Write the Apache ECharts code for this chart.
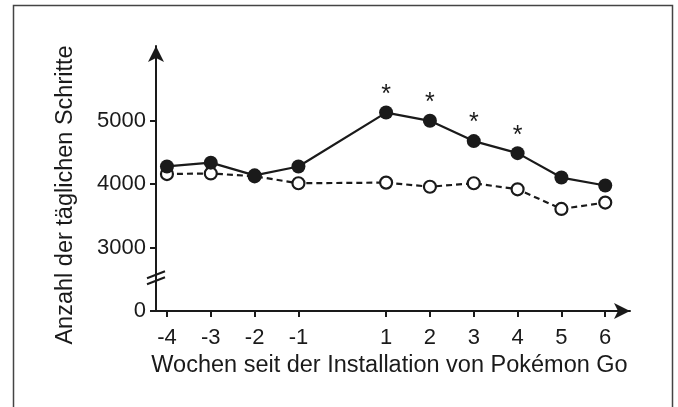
<!DOCTYPE html>
<html>
<head>
<meta charset="utf-8">
<script src="https://cdn.jsdelivr.net/npm/echarts@6/dist/echarts.min.js"></script>
<style>
html,body{margin:0;padding:0;background:#fff;}
#chart{width:678px;height:407px;}
</style>
</head>
<body>
<div id="chart"></div>
<script>
// Data
var weeks = [-4, -3, -2, -1, 1, 2, 3, 4, 5, 6];
var pokemonUsers = [4280, 4340, 4140, 4280, 5130, 5000, 4680, 4490, 4105, 3980];
var nonUsers = [4160, 4170, 4125, 4015, 4025, 3960, 4015, 3920, 3610, 3710];
var significantWeeks = [1, 2, 3, 4];
var yTicks = [0, 3000, 4000, 5000];
var xTitle = 'Wochen seit der Installation von Pokémon Go';
var yTitle = 'Anzahl der täglichen Schritte';

var ink = '#1a1a1a';
var font = 'Liberation Sans';

function pairs(vals, withStars) {
  return weeks.map(function (w, i) {
    var item = { value: [w, vals[i]] };
    if (withStars && significantWeeks.indexOf(w) >= 0) {
      item.label = { show: true };
    }
    return item;
  });
}
function plain(v) { return String(v); }

var chart = echarts.init(document.getElementById('chart'), null, { renderer: 'canvas' });
var option = {
  animation: false,
  backgroundColor: '#fff',
  textStyle: { fontFamily: font, color: ink },
  grid: { left: 156, right: 48, top: 46, bottom: 96, containLabel: false },
  xAxis: {
    type: 'value',
    min: -4.25,
    max: 6.565,
    name: xTitle,
    nameLocation: 'middle',
    nameGap: 42,
    nameTextStyle: { fontSize: 23.5, color: ink, fontFamily: font, padding: [0, 7, 0, 0] },
    axisLine: { show: true, onZero: false, lineStyle: { color: ink, width: 2 }, symbol: ['none', 'arrow'], symbolSize: [12, 16] },
    axisTick: { show: true, inside: false, length: 6, lineStyle: { color: ink, width: 2 }, customValues: weeks },
    axisLabel: { show: true, margin: 16, fontSize: 22, color: ink, fontFamily: font, customValues: weeks, formatter: plain },
    splitLine: { show: false }
  },
  yAxis: {
    type: 'value',
    min: 0,
    max: 6180,
    breaks: [{ start: 100, end: 2900, gap: 800 }],
    breakArea: { show: false },
    name: yTitle,
    nameLocation: 'middle',
    nameRotate: 90,
    nameGap: 78,
    nameTextStyle: { fontSize: 23.5, color: ink, fontFamily: font, padding: [0, 33, 0, 0] },
    axisLine: { show: true, onZero: false, lineStyle: { color: ink, width: 2 }, symbol: ['none', 'arrow'], symbolSize: [12, 16] },
    axisTick: { show: true, inside: false, length: 6, lineStyle: { color: ink, width: 2 }, customValues: yTicks },
    axisLabel: { show: true, margin: 10, fontSize: 22, color: ink, fontFamily: font, customValues: yTicks, formatter: plain },
    splitLine: { show: false }
  },
  series: [
    {
      name: 'Nicht-Nutzer',
      type: 'line',
      data: pairs(nonUsers, false),
      symbol: 'circle',
      symbolSize: 12,
      lineStyle: { color: ink, width: 2.2, type: [6, 4] },
      itemStyle: { color: '#fff', borderColor: ink, borderWidth: 2.2 },
      z: 2
    },
    {
      name: 'Pokémon-Go-Nutzer',
      type: 'line',
      data: pairs(pokemonUsers, true),
      symbol: 'circle',
      symbolSize: 14,
      lineStyle: { color: ink, width: 2.2 },
      itemStyle: { color: ink, borderColor: ink, borderWidth: 0 },
      label: { show: false, position: 'top', distance: -2, formatter: '*', fontSize: 25, color: ink, fontFamily: font },
      z: 3
    }
  ]
};
chart.setOption(option);

function addDecor() {
  var x0 = chart.convertToPixel({ xAxisIndex: 0 }, -4.25);
  var yA = chart.convertToPixel({ yAxisIndex: 0 }, 0);
  var yB = chart.convertToPixel({ yAxisIndex: 0 }, 3000);
  var ym = (yA + yB) / 2;
  chart.setOption({
    graphic: [
      { type: 'rect', shape: { x: 13.5, y: 5.5, width: 659, height: 430 }, style: { fill: 'none', stroke: '#444', lineWidth: 1.5 }, silent: true },
      { type: 'line', shape: { x1: x0, y1: yA, x2: x0, y2: yB }, style: { stroke: ink, lineWidth: 2 }, z: 9 },
      { type: 'line', shape: { x1: x0 - 9, y1: ym - 1, x2: x0 + 9, y2: ym - 8 }, style: { stroke: ink, lineWidth: 2 }, z: 10 },
      { type: 'line', shape: { x1: x0 - 9, y1: ym + 5, x2: x0 + 9, y2: ym - 2 }, style: { stroke: ink, lineWidth: 2 }, z: 10 }
    ]
  });
}
addDecor();
</script>
</body>
</html>
